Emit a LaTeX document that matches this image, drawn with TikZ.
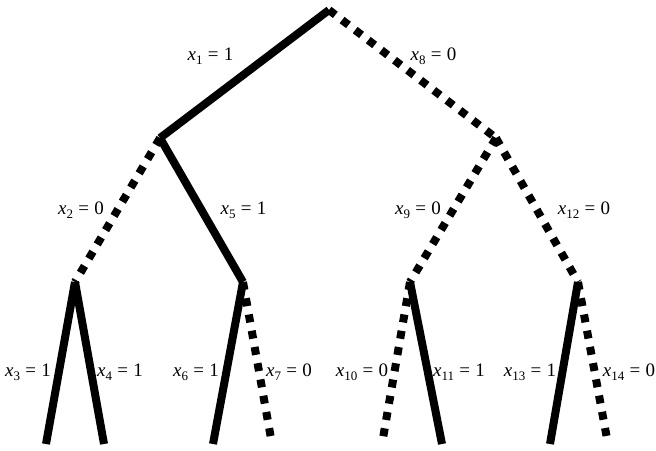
\documentclass[tikz,border=0pt]{standalone}
\usepackage{fontspec}
\setmainfont{Liberation Serif}
\newcommand\xeq[2]{\textit{x}\raisebox{-0.22em}{\fontsize{13}{15}\selectfont #1}\hspace{0.28em}=\hspace{0.28em}#2}
\begin{document}
\begin{tikzpicture}[x=1pt,y=-1pt,
  solidedge/.style={line width=8pt},
  dotedge/.style={line width=8pt,dash pattern=on 8pt off 8.5pt},
  lbl/.style={inner sep=0pt,anchor=base,font=\fontsize{19}{22}\selectfont}]
\useasboundingbox (0,0) rectangle (656,450);
\coordinate (r) at (329,10);
\coordinate (a) at (160,138);
\coordinate (b) at (496,138);
\coordinate (c) at (75,282);
\coordinate (d) at (243,282);
\coordinate (e) at (410,282);
\coordinate (f) at (578,282);
\coordinate (l1) at (46,444);
\coordinate (l2) at (104,444);
\coordinate (l3) at (213,444);
\coordinate (l4) at (272,444);
\coordinate (l5) at (382,444);
\coordinate (l6) at (442,444);
\coordinate (l7) at (550,444);
\coordinate (l8) at (608,444);
\draw[solidedge] (r) -- (a);
\draw[dotedge] (r) -- (b);
\draw[dotedge] (a) -- (c);
\draw[solidedge] (a) -- (d);
\draw[dotedge] (b) -- (e);
\draw[dotedge] (b) -- (f);
\draw[solidedge] (c) -- (l1);
\draw[solidedge] (c) -- (l2);
\draw[solidedge] (d) -- (l3);
\draw[dotedge] (d) -- (l4);
\draw[dotedge] (e) -- (l5);
\draw[solidedge] (e) -- (l6);
\draw[solidedge] (f) -- (l7);
\draw[dotedge] (f) -- (l8);
\node[lbl] (t1) at (210.5,60) {\xeq{1}{1}};
\node[lbl] (t8) at (433.5,60) {\xeq{8}{0}};
\node[lbl] (t2) at (81,214) {\xeq{2}{0}};
\node[lbl] (t5) at (243.5,214) {\xeq{5}{1}};
\node[lbl] (t9) at (418,214) {\xeq{9}{0}};
\node[lbl] (t12) at (584,214) {\xeq{12}{0}};
\node[lbl] (t3) at (28,376) {\xeq{3}{1}};
\node[lbl] (t4) at (120,376) {\xeq{4}{1}};
\node[lbl] (t6) at (196,376) {\xeq{6}{1}};
\node[lbl] (t7) at (289,376) {\xeq{7}{0}};
\node[lbl] (t10) at (362,376) {\xeq{10}{0}};
\node[lbl] (t11) at (459,376) {\xeq{11}{1}};
\node[lbl] (t13) at (530,376) {\xeq{13}{1}};
\node[lbl] (t14) at (629,376) {\xeq{14}{0}};
\end{tikzpicture}
\end{document}
